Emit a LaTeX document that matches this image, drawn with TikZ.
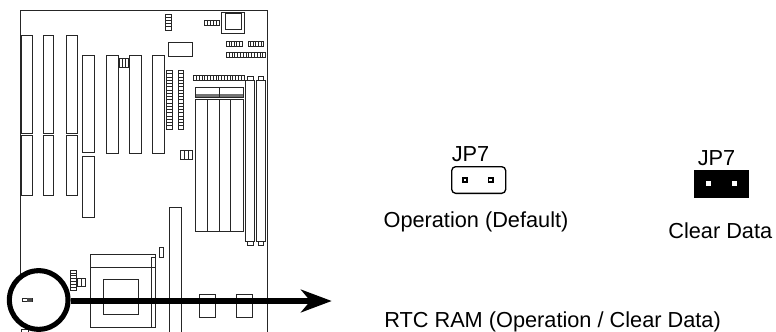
\documentclass[tikz,border=0pt]{standalone}
\usepackage{fontspec}
\setmainfont{Liberation Sans}
\usetikzlibrary{arrows.meta}
\tikzset{
  part/.style={draw=black!85, line width=0.75pt},
  thinpart/.style={draw=black!85, line width=0.6pt},
  caption/.style={anchor=base, inner sep=0pt, font=\fontsize{16.3}{18}\selectfont},
  jumperbox/.style={inner sep=0pt, minimum width=40.5pt, minimum height=20pt},
  ring/.style={circle, draw=black, fill=white, line width=3.8pt, minimum size=44pt, inner sep=0pt},
  pin/.style={draw=black, fill=white, line width=1pt, minimum size=3.2pt, inner sep=0pt},
  solidpin/.style={fill=white, minimum size=4pt, inner sep=0pt}
}
% cells along a row of a header: x1, y1, x2, y2, number of cells
\newcommand{\hcells}[5]{
  \draw[thinpart] (#1,#2) rectangle (#3,#4);
  \foreach \i in {1,...,#5} {
    \draw[thinpart] ({#1+(#3-#1)*\i/#5},#2) -- ({#1+(#3-#1)*\i/#5},#4);
  }
}
% same, cells stacked
\newcommand{\vcells}[5]{
  \draw[thinpart] (#1,#2) rectangle (#3,#4);
  \foreach \i in {1,...,#5} {
    \draw[thinpart] (#1,{#2+(#4-#2)*\i/#5}) -- (#3,{#2+(#4-#2)*\i/#5});
  }
}
\begin{document}
\begin{tikzpicture}[x=0.75pt,y=-0.75pt]
  \useasboundingbox (0,0) rectangle (776,332);

  % board edge
  \draw[part] (20.5,300) -- (20.5,10) -- (267,10) -- (267,332);

  % left slots
  \foreach \xa/\xb in {21/32, 43/53.5, 66.5/77} {
    \draw[part] (\xa,35) rectangle (\xb,133);
    \draw[part] (\xa,135.3) rectangle (\xb,195);
  }
  \draw[part] (82,55) rectangle (94,152.5);
  \draw[part] (82,156) rectangle (94,217);
  \foreach \xa/\xb in {106/118, 129.5/141.5, 152.7/164.7} {
    \draw[part] (\xa,55) rectangle (\xb,153.5);
  }
  \hcells{119.5}{58}{128}{67}{3}

  % top parts
  \vcells{165}{14}{171.5}{30}{5}
  \draw[part] (168.3,42.3) rectangle (192.3,56.5);
  \hcells{204.5}{20}{219}{25.5}{5}
  \draw[part] (221,12) rectangle (244.5,33.5);
  \draw[part] (225.7,13.5) rectangle (241,29.5);
  \hcells{226.5}{41}{242}{46}{6}
  \hcells{248}{41}{263.5}{46}{6}
  \hcells{226.5}{52}{265.5}{57}{14}
  \hcells{193.5}{75}{244}{80.5}{18}

  % two narrow headers
  \vcells{166.5}{70.5}{172}{129}{18}
  \vcells{178}{70.5}{183.5}{129}{18}
  \hcells{180.3}{150}{192.5}{159}{3}

  % memory sockets
  \fill[black!55] (195,94) rectangle (243,97);
  \draw[part] (195,87.5) rectangle (243,97);
  \draw[part] (219,87.5) -- (219,97);
  \draw[part] (195,99) rectangle (243,231);
  \foreach \x in {207,219,230.7} {
    \draw[part] (\x,99) -- (\x,231);
  }
  \foreach \xa/\xb in {245.5/254.5, 256.5/265} {
    \draw[part] (\xa,80.5) rectangle (\xb,241);
    \draw[part] (\xa+1.5,76) rectangle (\xb-1.5,80.5);
    \draw[part] (\xa+1.5,241) rectangle (\xb-1.5,245.5);
  }

  % lower parts
  \draw[thinpart] (159.3,247.3) rectangle (163,257);
  \draw[part] (169.7,332) -- (169.7,207.3) -- (181.5,207.3) -- (181.5,332);
  \draw[part] (90,254.7) rectangle (155,327.3);
  \draw[part] (90,267.7) -- (155,267.7);
  \draw[part] (103,279.3) rectangle (138.3,314.3);
  \draw[part] (155,257.7) -- (151.7,257.7) -- (151.7,327.3);
  \vcells{70.5}{270}{76}{290.3}{7}
  \hcells{77.5}{278}{85.7}{286}{2}
  \draw[part] (199.3,294.3) rectangle (215.7,317.7);
  \draw[part] (236.3,294.3) rectangle (252.3,317.7);
  \draw[part] (21,329) rectangle (28,332);

  % ring and arrow
  \coordinate (arrowend) at (331.7,301);
  \node[ring] (rtcring) at (38.7,300) {};
  \draw[line width=4pt, -{Stealth[length=23pt, width=17pt, inset=7pt]}] (rtcring.east |- arrowend) -- (arrowend);
  \draw[thinpart] (22,298) rectangle (32,301.5);
  \fill[black!70] (27,298) rectangle (32,301.5);

  % jumpers
  \node[caption] (openlabel) at (470.5,161.7) {JP7};
  \node[jumperbox, draw=black, line width=1pt, rounded corners=3pt] (openjumper) at (478.7,180) {};
  \node[pin] (openpina) at (465,180) {};
  \node[pin] (openpinb) at (490.7,180) {};
  \node[caption] (opencaption) at (476,227) {Operation (Default)};

  \node[caption] (closedlabel) at (716.5,165) {JP7};
  \node[jumperbox, fill=black, minimum width=41.2pt, minimum height=21pt] (closedjumper) at (721.5,183.8) {};
  \node[solidpin] (closedpina) at (708.3,183.5) {};
  \node[solidpin] (closedpinb) at (734.3,183.5) {};
  \node[caption] (closedcaption) at (720.3,238) {Clear Data};

  \node[caption, anchor=base west] (rtccaption) at (384,327) {RTC RAM (Operation / Clear Data)};
\end{tikzpicture}
\end{document}
